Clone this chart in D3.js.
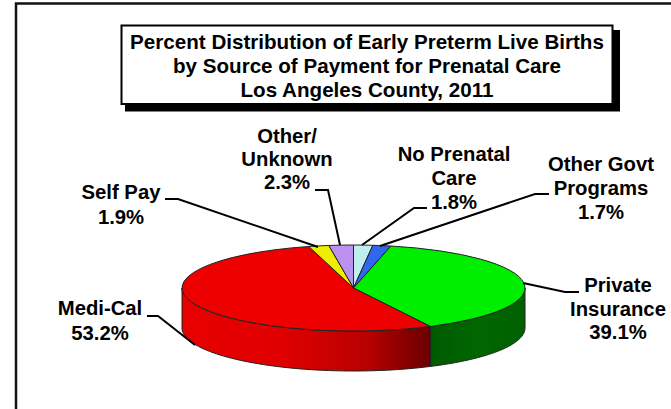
<!DOCTYPE html>
<html>
<head>
<meta charset="utf-8">
<script src="https://cdn.jsdelivr.net/npm/d3@7"></script>
<style>
html, body { margin: 0; padding: 0; background: #fff; }
svg { display: block; }
text { font-family: "Liberation Sans", Arial, sans-serif; font-weight: bold; fill: #000; }
</style>
</head>
<body>
<script>
// slices run clockwise from 12 o'clock
var categories = ["No Prenatal Care", "Other Govt Programs", "Private Insurance", "Medi-Cal", "Self Pay", "Other/Unknown"];
var percents = [1.8, 1.7, 39.1, 53.2, 1.9, 2.3];
var sliceColors = ["#bfeeee", "#3366ee", "#00ee00", "#ee0000", "#eeee00", "#bb90ee"];
var titleLines = ["Percent Distribution of Early Preterm Live Births", "by Source of Payment for Prenatal Care", "Los Angeles County, 2011"];
var labelLines = [["No Prenatal", "Care", "1.8%"], ["Other Govt", "Programs", "1.7%"], ["Private", "Insurance", "39.1%"], ["Medi-Cal", "53.2%"], ["Self Pay", "1.9%"], ["Other/", "Unknown", "2.3%"]];

var width = 671, height = 409;
var cx = 353.5, cy = 288, rx = 171.5, ry = 43, depth = 40;

var svg = d3.select("body").append("svg").attr("width", width).attr("height", height);
var defs = svg.append("defs");

// page frame, right and bottom edges are cropped off
svg.append("path").attr("d", "M16," + height + "V3.5H" + width)
    .attr("fill", "none").attr("stroke", "#111").attr("stroke-width", 2.5);

// title box
svg.append("rect").attr("x", 125).attr("y", 30).attr("width", 495).attr("height", 81.5).attr("fill", "#000");
svg.append("rect").attr("x", 121.5).attr("y", 25.5).attr("width", 491).attr("height", 78.5)
    .attr("fill", "#fff").attr("stroke", "#000").attr("stroke-width", 2);
svg.append("g").selectAll("text").data(titleLines).enter().append("text")
    .attr("x", 367).attr("y", function (d, i) { return 49 + i * 24; })
    .attr("text-anchor", "middle").attr("font-size", 20.6).text(function (d) { return d; });

var arcs = d3.pie().sort(null).value(function (d) { return d; })(percents);

function px(a) { return cx + rx * Math.sin(a); }
function py(a) { return cy - ry * Math.cos(a); }

function sidePath(a0, a1) {
    var steps = d3.range(0, 61).map(function (i) { return a0 + (a1 - a0) * i / 60; });
    var line = d3.line().x(function (d) { return px(d[0]); }).y(function (d) { return py(d[0]) + d[1]; });
    var pts = steps.map(function (a) { return [a, 0]; })
        .concat(steps.slice().reverse().map(function (a) { return [a, depth]; }));
    return line(pts) + "Z";
}

function gradient(id, x0, x1, stops) {
    var g = defs.append("linearGradient").attr("id", id).attr("gradientUnits", "userSpaceOnUse")
        .attr("x1", x0).attr("x2", x1).attr("y1", 0).attr("y2", 0);
    stops.forEach(function (s) { g.append("stop").attr("offset", s[0]).attr("stop-color", s[1]); });
}

var greenArc = arcs[2], redArc = arcs[3];
gradient("greenSide", px(greenArc.endAngle), px(Math.PI / 2), [[0, "#005a00"], [0.5, "#006800"], [1, "#006000"]]);
gradient("redSide", px(3 * Math.PI / 2), px(redArc.startAngle), [[0, "#e80000"], [0.4, "#e00000"], [0.75, "#b80000"], [1, "#6a0000"]]);

svg.append("path").attr("d", sidePath(Math.PI / 2, greenArc.endAngle))
    .attr("fill", "url(#greenSide)").attr("stroke", "#222").attr("stroke-width", 1);
svg.append("path").attr("d", sidePath(redArc.startAngle, 3 * Math.PI / 2))
    .attr("fill", "url(#redSide)").attr("stroke", "#222").attr("stroke-width", 1);

// top face is a d3.arc squashed into an ellipse
var arc = d3.arc().innerRadius(0).outerRadius(rx);
svg.append("g").attr("transform", "translate(" + cx + "," + cy + ") scale(1," + (ry / rx) + ")")
    .selectAll("path").data(arcs).enter().append("path")
    .attr("d", arc)
    .attr("fill", function (d, i) { return sliceColors[i]; })
    .attr("stroke", "#222").attr("stroke-width", 1)
    .attr("vector-effect", "non-scaling-stroke");

// label positions and leader lines
var labelAt = [[454, 161], [601, 171], [618, 292], [100, 315], [121, 199], [287, 143]];
var labelGap = [24, 24, 23.5, 25, 24.5, 23];
var leaders = [
    "M427,208H414L362,245",
    "M549,194H535L380,246",
    "M579,292H565L523,283",
    "M147,316H158L195,345",
    "M165,199H178L318,247",
    "M315,190H328L340,245"
];
svg.append("g").selectAll("path").data(leaders).enter().append("path")
    .attr("d", function (d) { return d; })
    .attr("fill", "none").attr("stroke", "#000").attr("stroke-width", 2);

labelLines.forEach(function (lines, i) {
    svg.append("g").selectAll("text").data(lines).enter().append("text")
        .attr("x", labelAt[i][0]).attr("y", function (d, j) { return labelAt[i][1] + j * labelGap[i]; })
        .attr("text-anchor", "middle").attr("font-size", 20.3).text(function (d) { return d; });
});
</script>
</body>
</html>
